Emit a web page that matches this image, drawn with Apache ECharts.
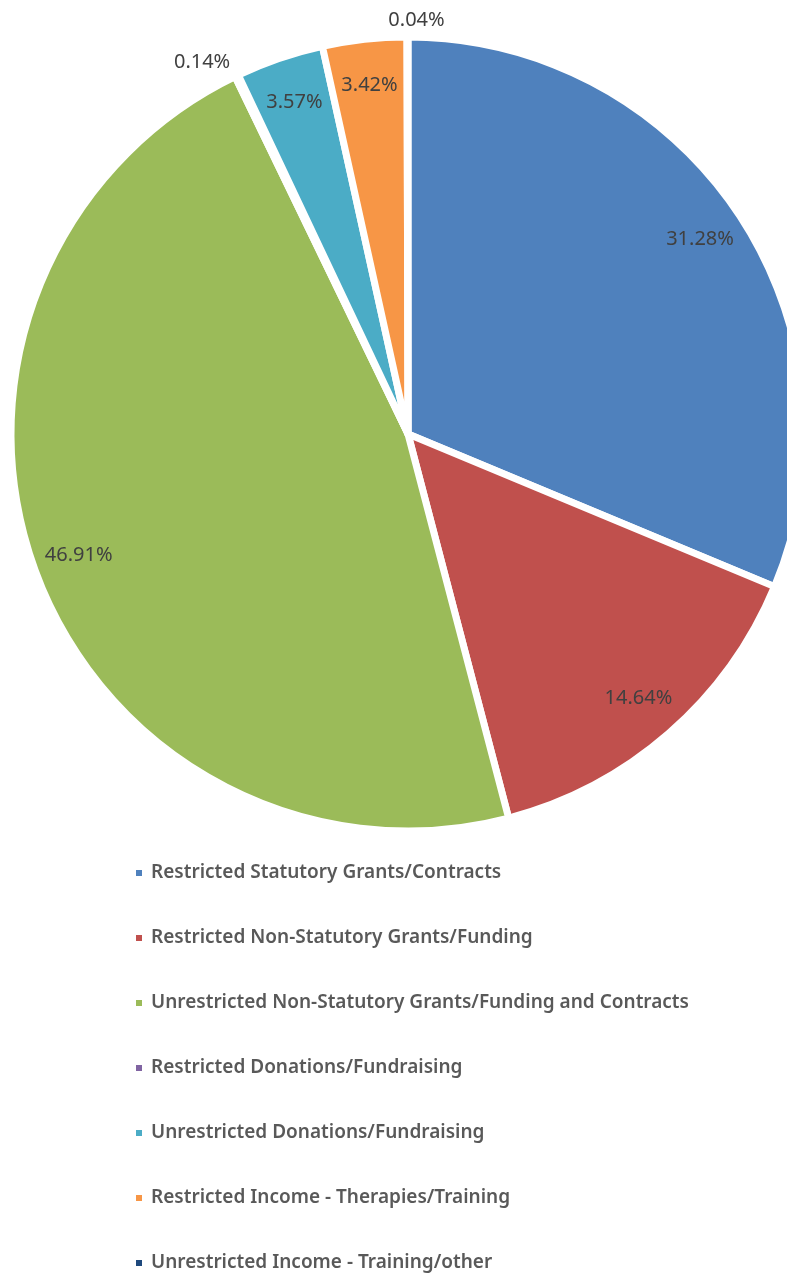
<!DOCTYPE html>
<html>
<head>
<meta charset="utf-8">
<style>
  html, body { margin: 0; padding: 0; background: #ffffff; }
  #chart { width: 787px; height: 1274px; }
</style>
<script src="https://cdn.jsdelivr.net/npm/echarts@6/dist/echarts.min.js"></script>
</head>
<body>
<div id="chart"></div>
<script>
// Income sources and their share of the total (%)
const categories = [
  'Restricted Statutory Grants/Contracts',
  'Restricted Non-Statutory Grants/Funding',
  'Unrestricted Non-Statutory Grants/Funding and Contracts',
  'Restricted Donations/Fundraising',
  'Unrestricted Donations/Fundraising',
  'Restricted Income - Therapies/Training',
  'Unrestricted Income - Training/other'
];
const shares = [31.28, 14.64, 46.91, 0.14, 3.57, 3.42, 0.04];
const colors = ['#4F81BD', '#C0504D', '#9BBB59', '#8064A2', '#4BACC6', '#F79646', '#1F497D'];

// Slices too thin for an inside label get theirs placed outside the rim
const outsideLabel = [false, false, false, true, false, false, true];

const center = [408, 434];
const pieData = categories.map((name, i) => ({
  name: name,
  value: shares[i],
  itemStyle: { color: colors[i] }
}));

// Transparent ring that only carries the percentage labels near the rim
const labelData = categories.map((name, i) => {
  const item = {
    name: name,
    value: shares[i],
    itemStyle: { color: 'rgba(0,0,0,0)', borderWidth: 0 }
  };
  if (outsideLabel[i]) {
    item.label = { position: 'outside', distanceToLabelLine: 0 };
    item.labelLine = { show: false, length: 16, length2: 0 };
  }
  return item;
});
labelData[6].labelLine.length = 18;

const chart = echarts.init(document.getElementById('chart'), null, { renderer: 'canvas' });
chart.setOption({
  animation: false,
  color: colors,
  legend: {
    orient: 'vertical',
    left: 129,
    top: 857,
    height: 420,
    icon: 'rect',
    itemWidth: 8,
    itemHeight: 8,
    itemGap: 43,
    selectedMode: false,
    data: categories,
    textStyle: {
      fontFamily: 'Noto Sans',
      fontWeight: 600,
      fontSize: 19,
      lineHeight: 22,
      color: '#595959',
      padding: [0, 0, 0, 3]
    }
  },
  series: [
    {
      type: 'pie',
      center: center,
      radius: [0, 397],
      startAngle: 90,
      clockwise: true,
      silent: true,
      avoidLabelOverlap: false,
      label: { show: false },
      labelLine: { show: false },
      itemStyle: { borderColor: '#ffffff', borderWidth: 7 },
      data: pieData
    },
    {
      type: 'pie',
      center: center,
      radius: [300, 396],
      startAngle: 90,
      clockwise: true,
      silent: true,
      avoidLabelOverlap: false,
      legendHoverLink: false,
      label: {
        show: true,
        position: 'inside',
        formatter: (p) => p.value.toFixed(2) + '%',
        fontFamily: 'Noto Sans',
        fontSize: 20,
        color: '#404040'
      },
      labelLine: { show: false },
      // the label of the sliver at twelve o'clock is centred over it
      labelLayout: (params) => params.dataIndex === 6 ? { align: 'center', dx: 9 } : {},
      data: labelData
    }
  ]
});
</script>
</body>
</html>
